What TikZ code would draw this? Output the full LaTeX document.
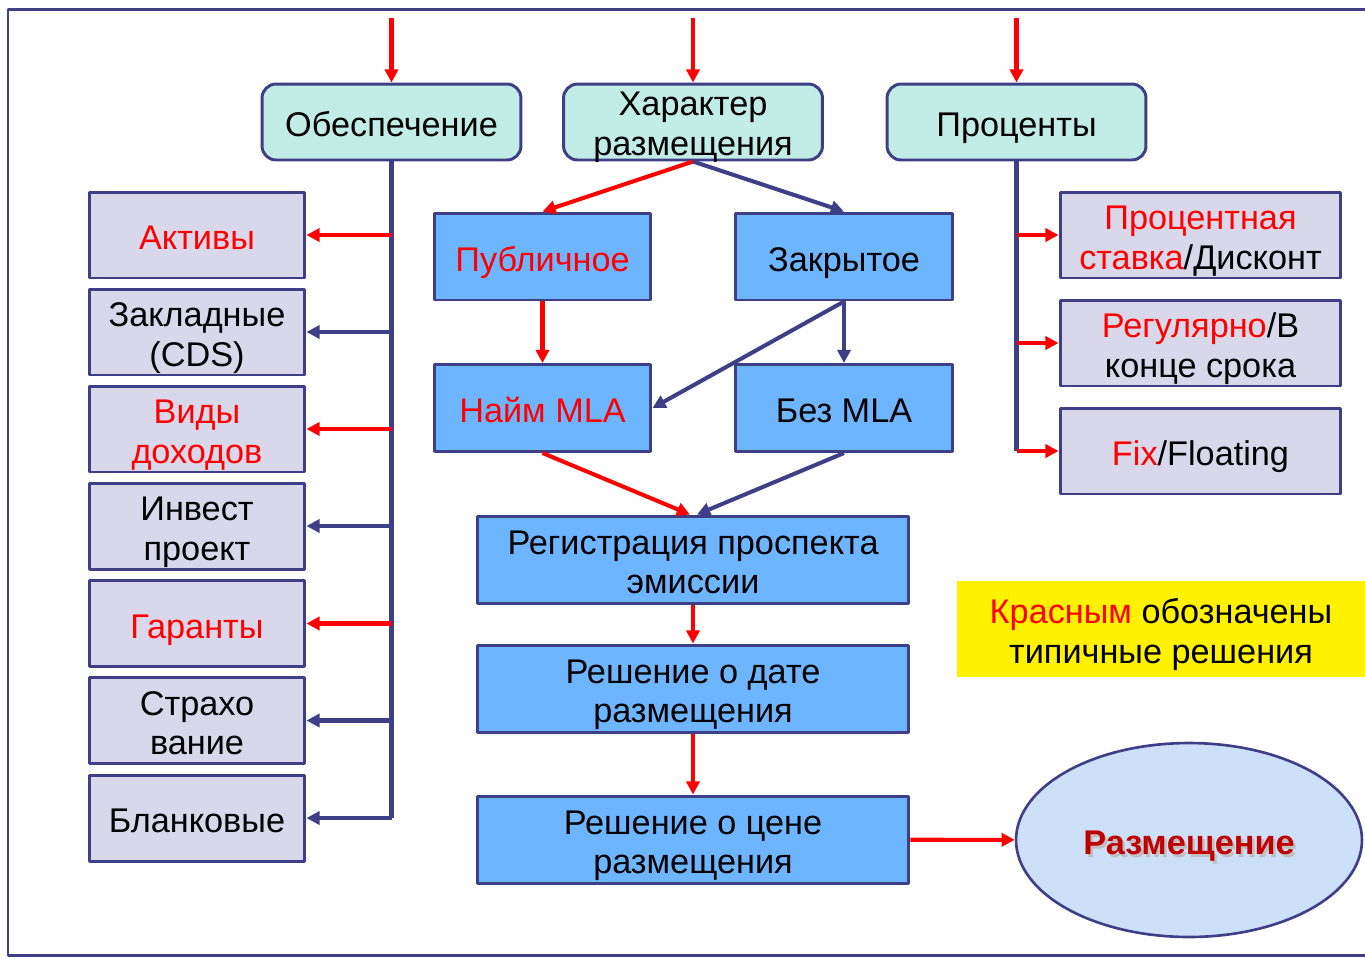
\documentclass[tikz,border=0pt]{standalone}
\usepackage{fontspec}
\setmainfont{Liberation Sans}
\usepackage{xcolor}
\usetikzlibrary{arrows.meta,shapes.geometric}
\definecolor{navy}{HTML}{3F3F88}
\definecolor{mint}{HTML}{C2ECE6}
\definecolor{lav}{HTML}{D9D8EB}
\definecolor{sky}{HTML}{6DB6FF}
\definecolor{pale}{HTML}{CCE0FA}
\definecolor{dred}{HTML}{C00000}
\tikzset{
  every picture/.style={line join=round, >={Triangle[length=7.5pt,width=7.5pt]}},
  txt/.style={font=\fontsize{19.5}{22.7}\selectfont, align=flush center, inner sep=0pt,
    execute at begin node={\rule{0pt}{21pt}},
    execute at end node={\rule[-4.5pt]{0pt}{4.5pt}}},
  topbox/.style={txt, text width=5cm, draw=navy, line width=1.7pt, fill=mint,
    rounded corners=8pt, minimum width=5.18cm, minimum height=1.52cm},
  leftbox/.style={txt, text width=4.2cm, draw=navy, line width=1.7pt, fill=lav,
    minimum width=4.32cm, minimum height=1.72cm},
  rightbox/.style={leftbox, text width=5.5cm, minimum width=5.62cm},
  midbox/.style={txt, text width=4.2cm, draw=navy, line width=1.7pt, fill=sky,
    minimum width=4.34cm, minimum height=1.74cm},
  widebox/.style={midbox, text width=8.5cm, minimum width=8.64cm},
  redarr/.style={->, draw=red, line width=2.3pt},
  bluarr/.style={->, draw=navy, line width=2.3pt},
  spine/.style={draw=navy, line width=2.3pt},
}
\begin{document}
\begin{tikzpicture}[x=0.02cm, y=-0.02cm]
\useasboundingbox (0,0) rectangle (1365,958);
\draw[navy, line width=1.7pt] (8,9) rectangle (1380,955);

\node[topbox] (obesp) at (391.5,122) {Обеспечение};
\node[topbox] (harakt) at (693,122)
  {\smash{\parbox{5cm}{\centering Характер\\размещения}}};
\node[topbox] (proc) at (1016.5,122) {Проценты};
\coordinate (in1) at (391.5,18);
\coordinate (in2) at (693,18);
\coordinate (in3) at (1016.5,18);
\draw[redarr] (in1) -- (obesp);
\draw[redarr] (in2) -- (harakt);
\draw[redarr] (in3) -- (proc);

\node[leftbox] (aktiv) at (197,235) {\textcolor{red}{Активы}};
\node[leftbox] (zaklad) at (197,332) {Закладные\\(CDS)};
\node[leftbox] (vidy) at (197,429) {\textcolor{red}{Виды}\\\textcolor{red}{доходов}};
\node[leftbox] (invest) at (197,526) {Инвест\\проект};
\node[leftbox] (garant) at (197,623.5) {\textcolor{red}{Гаранты}};
\node[leftbox] (strah) at (197,720.5) {Страхо\\вание};
\node[leftbox] (blank) at (197,818) {Бланковые};
\draw[spine] (obesp.south) -- (obesp.south |- blank.east);
\draw[redarr] (obesp.south |- aktiv.east) -- (aktiv.east);
\draw[bluarr] (obesp.south |- zaklad.east) -- (zaklad.east);
\draw[redarr] (obesp.south |- vidy.east) -- (vidy.east);
\draw[bluarr] (obesp.south |- invest.east) -- (invest.east);
\draw[redarr] (obesp.south |- garant.east) -- (garant.east);
\draw[bluarr] (obesp.south |- strah.east) -- (strah.east);
\draw[bluarr] (obesp.south |- blank.east) -- (blank.east);

\node[midbox] (publ) at (542.5,256.5) {\textcolor{red}{Публичное}};
\node[midbox] (zakr) at (844,256.5) {Закрытое};
\node[midbox] (naim) at (542.5,408) {\textcolor{red}{Найм MLA}};
\node[midbox] (bez) at (844,408) {Без MLA};
\node[widebox] (reg) at (693,559.5) {Регистрация проспекта\\эмиссии};
\node[widebox] (data) at (693,688.5) {Решение о дате\\размещения};
\node[widebox] (cena) at (693,839.5) {Решение о цене\\размещения};
\draw[redarr] (harakt.south) -- (publ.north);
\draw[bluarr] (harakt.south) -- (zakr.north);
\draw[redarr] (publ) -- (naim);
\draw[bluarr] (zakr) -- (bez);
\draw[bluarr] (zakr.south) -- (naim.east);
\draw[redarr] (naim.south) -- ([xshift=-0.06cm]reg.north);
\draw[bluarr] (bez.south) -- ([xshift=0.08cm]reg.north);
\draw[redarr] (reg) -- (data);
\draw[redarr] (data) -- (cena);

\node[rightbox] (stavka) at (1200.5,235) {\textcolor{red}{Процентная}\\\textcolor{red}{ставка}/Дисконт};
\node[rightbox] (regul) at (1200.5,343) {\textcolor{red}{Регулярно}/В\\конце срока};
\node[rightbox] (fix) at (1200.5,451) {\textcolor{red}{Fix}/Floating};
\draw[spine] (proc.south) -- (proc.south |- fix.west);
\draw[redarr] (proc.south |- stavka.west) -- (stavka.west);
\draw[redarr] (proc.south |- regul.west) -- (regul.west);
\draw[redarr] (proc.south |- fix.west) -- (fix.west);

\node[txt, text width=8cm, fill=yellow, minimum width=8.16cm, minimum height=1.92cm] (legend) at (1161,629)
  {\textcolor{red}{Красным} обозначены\\типичные решения};

\node[ellipse, draw=navy, line width=1.5pt, fill=pale, inner sep=0pt,
  minimum width=6.92cm, minimum height=3.88cm] (razm) at (1189,840) {};
\node[txt, font=\fontsize{19.5}{22.7}\selectfont\bfseries, text=black!25] at ([xshift=0.05cm,yshift=-0.05cm]razm.center) {Размещение};
\node[txt, font=\fontsize{19.5}{22.7}\selectfont\bfseries, text=dred] at (razm.center) {Размещение};
\draw[redarr] (cena) -- (razm);
\end{tikzpicture}
\end{document}
